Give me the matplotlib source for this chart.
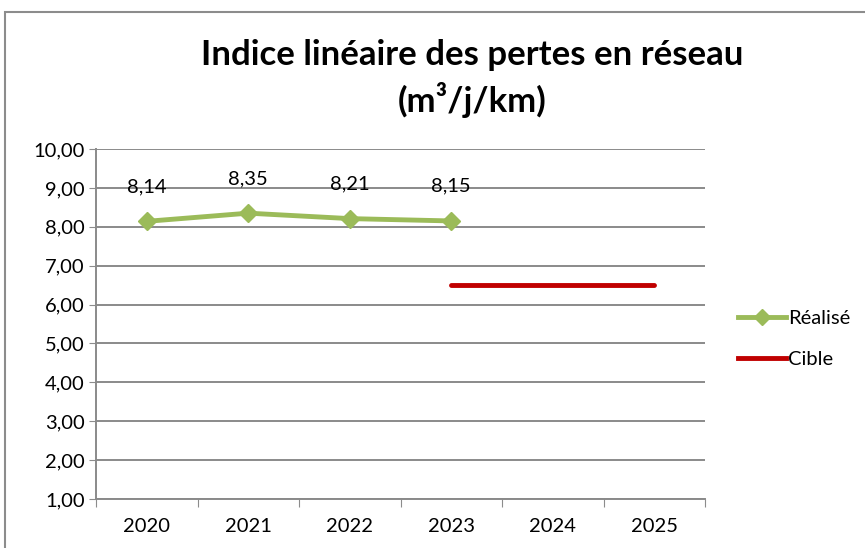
import matplotlib
matplotlib.use("Agg")
import matplotlib.pyplot as plt
from matplotlib.patches import Rectangle
from matplotlib.lines import Line2D

years = ["2020", "2021", "2022", "2023", "2024", "2025"]
realise = [8.14, 8.35, 8.21, 8.15]
realise_labels = ["8,14", "8,35", "8,21", "8,15"]
cible_years = ["2023", "2024", "2025"]
cible = [6.5, 6.5, 6.5]
yticks = [1, 2, 3, 4, 5, 6, 7, 8, 9, 10]
ytick_labels = ["1,00", "2,00", "3,00", "4,00", "5,00", "6,00", "7,00", "8,00", "9,00", "10,00"]

plt.rcParams['font.family'] = ['Lato', 'DejaVu Sans']

fig = plt.figure(figsize=(8.65, 5.48), dpi=100)
W, H = 865, 548
# outer chart frame
fig.patches.append(Rectangle((5 / W, -0.1), 1.2, 1 - 12 / H + 0.1, transform=fig.transFigure,
                             fill=False, edgecolor="#8c8c8c", linewidth=1.5))

ax = fig.add_axes([96 / W, 1 - 499 / H, (705 - 96) / W, (499 - 149) / H])
xs = list(range(len(years)))
idx = {y: i for i, y in enumerate(years)}

ax.plot(xs[:len(realise)], realise, color="#9BBB59", linewidth=3.5, marker="D", markersize=9,
        label="Réalisé", solid_capstyle="round", zorder=3)
ax.plot([idx[y] for y in cible_years], cible, color="#C00000", linewidth=3.5,
        solid_capstyle="round", label="Cible", zorder=3)
for x, v, t in zip(xs, realise, realise_labels):
    ax.annotate(t, (x, v), xytext=(0, 25), textcoords="offset points", ha="center", va="center",
                fontsize=14.5, color="black")

ax.set_xlim(-0.5, len(years) - 0.5)
ax.set_ylim(1, 10)
ax.set_yticks(yticks)
ax.set_yticklabels(ytick_labels, fontsize=14.5)
ax.set_xticks([i - 0.5 for i in range(len(years) + 1)])
ax.set_xticklabels([])
ax.set_xticks(xs, minor=True)
ax.set_xticklabels(years, minor=True, fontsize=14.5)
ax.tick_params(axis="x", which="major", length=6, color="#8c8c8c", direction="out")
ax.tick_params(axis="x", which="minor", length=0, pad=14)
ax.tick_params(axis="y", length=5, color="#8c8c8c", direction="out", pad=3)
ax.grid(axis="y", color="#8a8a8a", linewidth=1.4)
ax.set_axisbelow(True)
for s in ["top", "right"]:
    ax.spines[s].set_visible(False)
for s in ["left", "bottom"]:
    ax.spines[s].set_color("#8a8a8a")
    ax.spines[s].set_linewidth(1.4)

handles = [Line2D([], [], color="#9BBB59", linewidth=3.5, marker="D", markersize=8),
           Line2D([], [], color="#C00000", linewidth=3.5)]
fig.legend(handles, ["Réalisé", "Cible"], loc="center left", bbox_to_anchor=(728 / W, 1 - 339 / H),
           frameon=False, fontsize=14.5, handlelength=2.4, handletextpad=0.1, labelspacing=1.15,
           borderpad=0)

fig.text(472 / W, 1 - 55 / H, "Indice linéaire des pertes en réseau", ha="center", va="center",
         fontsize=25, fontweight="bold")
fig.text(472 / W, 1 - 100 / H, "(m³/j/km)", ha="center", va="center", fontsize=25, fontweight="bold")

fig.savefig("out.png", dpi=100)
